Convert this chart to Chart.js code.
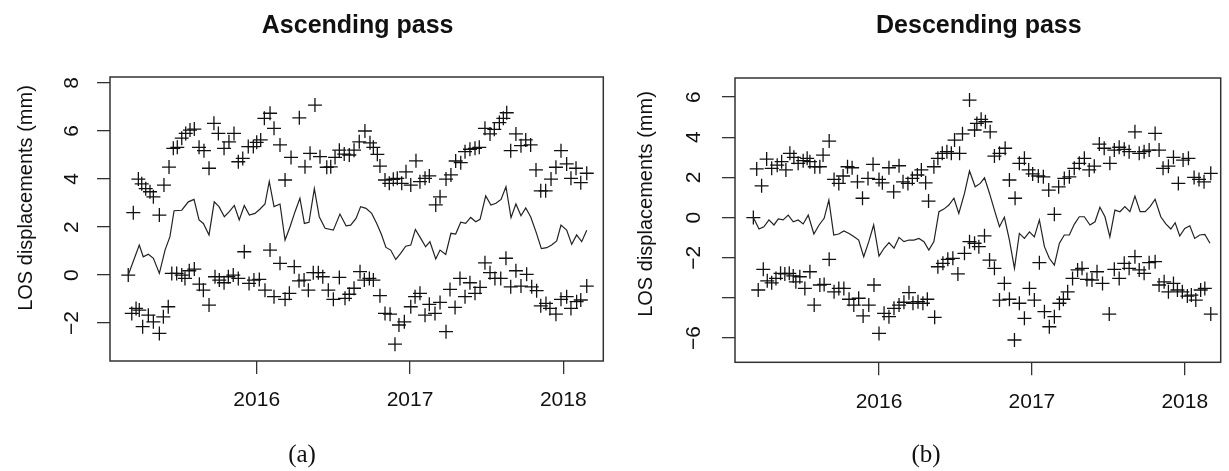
<!DOCTYPE html>
<html>
<head>
<meta charset="utf-8">
<title>LOS displacements</title>
<script src="https://cdn.jsdelivr.net/npm/chart.js@4.4.1/dist/chart.umd.min.js"></script>
<style>
  html, body { margin: 0; padding: 0; background: #fff; }
  #wrap { position: relative; width: 1229px; height: 471px; overflow: hidden; }
  canvas { position: absolute; top: 0; }
  #chartA { left: 0; }
  #chartB { left: 615px; }
</style>
</head>
<body>
<div id="wrap">
  <canvas id="chartA" width="615" height="471"></canvas>
  <canvas id="chartB" width="614" height="471"></canvas>
</div>
<script>
// ---- Ascending pass ----
const ascUpperX = [
  2015.162, 2015.195, 2015.228, 2015.250, 2015.276, 2015.304, 2015.326, 2015.365, 2015.395, 2015.428,
  2015.456, 2015.482, 2015.511, 2015.537, 2015.565, 2015.593, 2015.624, 2015.656, 2015.689, 2015.721,
  2015.750, 2015.787, 2015.819, 2015.852, 2015.880, 2015.909, 2015.945, 2015.978, 2016.000, 2016.026,
  2016.050, 2016.087, 2016.113, 2016.152, 2016.185, 2016.224, 2016.278, 2016.315, 2016.348, 2016.380,
  2016.413, 2016.457, 2016.483, 2016.511, 2016.539, 2016.571, 2016.604, 2016.635, 2016.669, 2016.706,
  2016.739, 2016.761, 2016.787, 2016.804, 2016.837, 2016.865, 2016.891, 2016.917, 2016.946, 2016.974,
  2017.005, 2017.039, 2017.065, 2017.098, 2017.126, 2017.168, 2017.196, 2017.235, 2017.267, 2017.298,
  2017.331, 2017.359, 2017.391, 2017.424, 2017.452, 2017.489, 2017.522, 2017.550, 2017.583, 2017.609,
  2017.631, 2017.657, 2017.691, 2017.724, 2017.755, 2017.787, 2017.822, 2017.853, 2017.885, 2017.920,
  2017.952, 2017.985, 2018.022, 2018.050, 2018.083, 2018.114, 2018.153
];
const ascUpperLos = [
  0, 2.6, 4.0, 3.8, 3.6, 3.47, 3.26, 2.5, 3.75, 4.5,
  5.28, 5.32, 5.7, 5.9, 6.04, 6.08, 5.32, 5.18, 4.45, 6.32,
  5.9, 5.28, 5.55, 5.9, 4.72, 4.86, 5.35, 5.35, 5.53, 5.63,
  6.53, 6.74, 6.11, 5.42, 3.96, 4.9, 6.55, 4.51, 5.07, 7.08,
  4.93, 4.49, 4.51, 4.9, 5.2, 5.04, 5.0, 5.2, 5.55, 6.0,
  5.51, 5.32, 5.03, 4.54, 3.96, 3.82, 3.99, 4.03, 3.82, 4.3,
  3.75, 4.76, 3.89, 4.03, 4.13, 2.92, 3.26, 4.0, 4.17, 4.75,
  4.68, 5.14, 5.24, 5.28, 5.32, 6.11, 5.88, 6.07, 6.35, 6.53,
  6.76, 5.18, 5.88, 5.39, 5.63, 5.42, 4.38, 3.51, 3.51, 4.0,
  4.49, 5.18, 4.63, 4.03, 4.45, 3.85, 4.24
];
const ascLowerX = [
  2015.185, 2015.213, 2015.234, 2015.256, 2015.293, 2015.326, 2015.365, 2015.391, 2015.423, 2015.446,
  2015.478, 2015.511, 2015.532, 2015.560, 2015.593, 2015.626, 2015.652, 2015.689, 2015.728, 2015.756,
  2015.787, 2015.815, 2015.847, 2015.880, 2015.919, 2015.950, 2015.982, 2016.017, 2016.054, 2016.087,
  2016.113, 2016.152, 2016.185, 2016.213, 2016.245, 2016.276, 2016.309, 2016.337, 2016.369, 2016.402,
  2016.431, 2016.467, 2016.500, 2016.539, 2016.576, 2016.604, 2016.635, 2016.674, 2016.702, 2016.735,
  2016.761, 2016.804, 2016.837, 2016.870, 2016.902, 2016.928, 2016.963, 2017.005, 2017.033, 2017.065,
  2017.098, 2017.126, 2017.163, 2017.196, 2017.235, 2017.261, 2017.294, 2017.326, 2017.359, 2017.391,
  2017.424, 2017.457, 2017.489, 2017.522, 2017.554, 2017.592, 2017.626, 2017.657, 2017.691, 2017.724,
  2017.761, 2017.794, 2017.826, 2017.853, 2017.887, 2017.913, 2017.952, 2017.985, 2018.022, 2018.050,
  2018.087, 2018.114, 2018.153
];
const ascLowerLos = [
  -1.6, -1.39, -1.46, -2.15, -1.67, -1.95, -2.43, -1.74, -1.32, 0.07,
  0.07, 0, -0.14, 0.18, 0.25, -0.38, -0.63, -1.25, -0.07, -0.21,
  -0.32, -0.07, 0, -0.14, 0.97, -0.35, -0.21, -0.18, -0.63, 1.04,
  -0.9, 0.49, -1.01, -0.76, 0.35, -0.24, -0.21, -0.63, 0.1, 0.1,
  -0.07, -0.63, -1.01, -0.1, -0.97, -0.8, -0.55, 0.14, -0.21, -0.14,
  -0.21, -0.86, -1.6, -1.63, -2.88, -2.08, -1.95, -1.32, -0.9, -0.76,
  -1.67, -1.22, -1.6, -1.14, -2.36, -0.6, -1.35, -0.14, -0.9, -0.32,
  -0.76, -0.51, 0.51, 0.1, -0.14, -0.14, 0.7, -0.49, 0.18, -0.46,
  0.03, -0.49, -0.65, -1.28, -1.18, -1.39, -1.63, -1.01, -0.9, -1.39,
  -1.11, -1.04, -0.46
];
const ascMeanX = [
  2015.162, 2015.234, 2015.260, 2015.293, 2015.326, 2015.365, 2015.402, 2015.434, 2015.461, 2015.511,
  2015.554, 2015.591, 2015.624, 2015.652, 2015.689, 2015.723, 2015.754, 2015.789, 2015.821, 2015.854,
  2015.886, 2015.919, 2015.952, 2015.989, 2016.022, 2016.054, 2016.082, 2016.113, 2016.152, 2016.185,
  2016.217, 2016.250, 2016.282, 2016.311, 2016.341, 2016.376, 2016.408, 2016.446, 2016.500, 2016.543,
  2016.583, 2016.613, 2016.648, 2016.678, 2016.713, 2016.750, 2016.783, 2016.815, 2016.843, 2016.874,
  2016.907, 2016.939, 2016.972, 2017.005, 2017.035, 2017.070, 2017.102, 2017.130, 2017.168, 2017.196,
  2017.233, 2017.267, 2017.298, 2017.331, 2017.363, 2017.396, 2017.429, 2017.457, 2017.494, 2017.528,
  2017.561, 2017.594, 2017.626, 2017.659, 2017.691, 2017.724, 2017.755, 2017.787, 2017.822, 2017.857,
  2017.892, 2017.924, 2017.957, 2017.985, 2018.022, 2018.055, 2018.087, 2018.120, 2018.153
];
const ascMeanLos = [
  0, 1.25, 0.76, 0.87, 0.7, 0.07, 1.04, 1.6, 2.68, 2.7,
  3.05, 3.15, 2.3, 2.15, 1.67, 3.05, 2.85, 2.43, 2.64, 2.9,
  2.3, 2.9, 2.5, 2.57, 2.75, 2.96, 3.9, 2.85, 2.96, 1.46,
  2.0, 2.64, 3.2, 2.15, 2.2, 3.6, 2.43, 1.95, 1.87, 2.54,
  2.05, 2.08, 2.36, 2.85, 2.78, 2.57, 2.15, 1.67, 1.15, 1.04,
  0.65, 0.9, 1.2, 1.25, 1.9, 1.53, 1.18, 1.39, 0.67, 1.04,
  0.86, 1.74, 1.71, 2.2, 2.15, 2.4, 2.22, 2.32, 3.3, 2.92,
  2.99, 3.15, 3.68, 2.39, 2.96, 2.47, 2.8, 2.43, 1.8, 1.1,
  1.14, 1.25, 1.42, 2.08, 1.87, 1.28, 1.67, 1.39, 1.87
];

// ---- Descending pass ----
const descUpperX = [
  2015.178, 2015.200, 2015.232, 2015.265, 2015.298, 2015.334, 2015.363, 2015.391, 2015.417, 2015.443,
  2015.471, 2015.504, 2015.530, 2015.548, 2015.580, 2015.613, 2015.634, 2015.674, 2015.706, 2015.737,
  2015.765, 2015.794, 2015.824, 2015.859, 2015.892, 2015.928, 2015.961, 2016.000, 2016.022, 2016.065,
  2016.096, 2016.131, 2016.157, 2016.189, 2016.218, 2016.251, 2016.277, 2016.305, 2016.324, 2016.359,
  2016.385, 2016.414, 2016.444, 2016.473, 2016.494, 2016.527, 2016.546, 2016.592, 2016.625, 2016.640,
  2016.668, 2016.696, 2016.727, 2016.755, 2016.788, 2016.825, 2016.853, 2016.890, 2016.918, 2016.951,
  2016.979, 2017.005, 2017.042, 2017.075, 2017.110, 2017.147, 2017.175, 2017.212, 2017.245, 2017.277,
  2017.310, 2017.343, 2017.375, 2017.408, 2017.441, 2017.473, 2017.510, 2017.539, 2017.571, 2017.604,
  2017.636, 2017.674, 2017.702, 2017.734, 2017.767, 2017.806, 2017.832, 2017.858, 2017.893, 2017.926,
  2017.958, 2017.989, 2018.024, 2018.061, 2018.093, 2018.126, 2018.170
];
const descUpperLos = [
  0, 2.42, 1.58, 2.91, 2.45, 2.61, 2.78, 2.37, 3.2, 3.0,
  2.7, 2.83, 2.95, 2.78, 2.53, 2.53, 3.11, 3.81, 1.9, 1.7,
  2.07, 2.53, 2.48, 1.78, 0.96, 1.95, 2.65, 1.9, 1.73, 2.48,
  1.28, 2.58, 1.78, 1.7, 1.95, 2.12, 2.37, 1.73, 0.82, 2.53,
  2.95, 3.2, 3.28, 3.2, 3.86, 3.2, 4.17, 5.85, 4.36, 4.69,
  4.89, 4.77, 4.27, 3.06, 3.2, 3.45, 1.87, 0.96, 2.7, 2.95,
  2.37, 2.17, 2.07, 2.03, 1.37, 0.16, 1.53, 1.95, 2.03, 2.45,
  2.7, 2.95, 2.37, 2.56, 3.66, 3.45, 2.7, 3.36, 3.5, 3.4,
  3.28, 4.27, 3.2, 3.28, 3.36, 4.19, 3.36, 2.45, 2.56, 3.0,
  1.7, 2.86, 2.95, 2.0, 1.9, 1.78, 2.2
];
const descLowerX = [
  2015.210, 2015.243, 2015.269, 2015.298, 2015.326, 2015.356, 2015.384, 2015.413, 2015.439, 2015.456,
  2015.482, 2015.515, 2015.548, 2015.576, 2015.613, 2015.641, 2015.674, 2015.706, 2015.737, 2015.770,
  2015.804, 2015.835, 2015.867, 2015.896, 2015.933, 2015.967, 2016.000, 2016.033, 2016.065, 2016.098,
  2016.131, 2016.163, 2016.196, 2016.222, 2016.255, 2016.287, 2016.316, 2016.364, 2016.385, 2016.418,
  2016.450, 2016.483, 2016.516, 2016.559, 2016.592, 2016.625, 2016.653, 2016.690, 2016.723, 2016.755,
  2016.788, 2016.820, 2016.853, 2016.886, 2016.918, 2016.951, 2016.984, 2017.016, 2017.049, 2017.082,
  2017.114, 2017.147, 2017.180, 2017.206, 2017.234, 2017.266, 2017.299, 2017.328, 2017.360, 2017.393,
  2017.426, 2017.462, 2017.506, 2017.539, 2017.571, 2017.604, 2017.636, 2017.674, 2017.702, 2017.734,
  2017.767, 2017.806, 2017.832, 2017.865, 2017.893, 2017.926, 2017.952, 2017.984, 2018.017, 2018.043,
  2018.072, 2018.104, 2018.131, 2018.170
];
const descLowerLos = [
  -3.61, -2.58, -3.15, -3.25, -3.03, -2.78, -2.81, -2.78, -2.91, -3.2,
  -2.95, -3.53, -2.7, -4.36, -3.36, -3.33, -2.08, -3.7, -3.53, -3.53,
  -4.07, -4.36, -4.02, -4.9, -4.36, -3.36, -5.77, -4.77, -4.94, -4.52,
  -4.36, -4.22, -3.74, -4.27, -4.19, -4.27, -4.07, -4.97, -2.45, -2.28,
  -2.08, -2.03, -2.81, -1.78, -1.2, -1.28, -1.45, -0.91, -2.12, -2.53,
  -4.11, -3.28, -4.07, -6.1, -4.27, -5.02, -3.53, -4.11, -2.25, -4.69,
  -5.44, -4.94, -4.27, -4.07, -3.7, -3.03, -2.61, -2.53, -3.08, -3.11,
  -2.7, -3.28, -4.81, -2.58, -3.03, -2.28, -2.53, -1.95, -2.61, -2.78,
  -2.25, -2.2, -3.36, -3.2, -3.7, -3.28, -3.61, -3.7, -3.91, -3.86,
  -4.11, -3.61, -3.53, -4.81
];
const descMeanX = [
  2015.178, 2015.215, 2015.247, 2015.280, 2015.313, 2015.341, 2015.373, 2015.406, 2015.439, 2015.471,
  2015.504, 2015.537, 2015.574, 2015.608, 2015.641, 2015.672, 2015.704, 2015.737, 2015.770, 2015.804,
  2015.837, 2015.867, 2015.900, 2015.933, 2015.965, 2016.000, 2016.033, 2016.065, 2016.098, 2016.131,
  2016.163, 2016.196, 2016.228, 2016.261, 2016.294, 2016.326, 2016.359, 2016.392, 2016.424, 2016.457,
  2016.490, 2016.522, 2016.559, 2016.592, 2016.629, 2016.662, 2016.690, 2016.723, 2016.755, 2016.788,
  2016.820, 2016.853, 2016.886, 2016.918, 2016.951, 2016.984, 2017.016, 2017.049, 2017.082, 2017.114,
  2017.147, 2017.180, 2017.212, 2017.245, 2017.277, 2017.310, 2017.343, 2017.380, 2017.413, 2017.445,
  2017.478, 2017.510, 2017.543, 2017.576, 2017.608, 2017.641, 2017.674, 2017.708, 2017.741, 2017.773,
  2017.806, 2017.843, 2017.876, 2017.909, 2017.937, 2017.967, 2018.000, 2018.033, 2018.065, 2018.098,
  2018.131, 2018.165
];
const descMeanLos = [
  0, -0.57, -0.46, -0.12, -0.37, -0.07, -0.12, 0.12, -0.21, -0.12,
  -0.32, 0.12, -0.82, -0.37, -0.04, 0.87, -0.87, -0.82, -0.67, -0.79,
  -0.96, -1.12, -1.95, -1.2, -0.37, -1.92, -1.53, -1.25, -1.53, -0.99,
  -1.2, -1.12, -1.12, -1.04, -1.2, -1.62, -1.2, 0.29, 0.42, 0.62,
  0.96, 0.21, 1.2, 2.32, 1.53, 1.7, 1.98, 1.2, 0.37, -0.46,
  0.01, -1.12, -2.53, -0.79, -1.04, -0.71, -0.96, -0.12, -1.45, -2.03,
  -2.37, -1.28, -0.87, -0.87, -0.34, 0.04, 0.04, -0.37, -0.21, 0.51,
  0.04, -0.96, 0.37, 0.29, 0.54, 0.29, 1.07, 0.29, 0.29, 0.54,
  0.91, 0.04, -0.32, -0.57, -0.26, -0.92, -0.54, -0.41, -1.04, -0.87,
  -0.84, -1.28
];

// ---- axes ----
const yearTicks = [2016, 2017, 2018];
const ascYTicks = [-2, 0, 2, 4, 6, 8];
const ascYLabels = ['\u22122', '0', '2', '4', '6', '8'];
const descYTicks = [-6, -4, -2, 0, 2, 4, 6];
const descYLabels = ['\u22126', '', '\u22122', '0', '2', '4', '6']; // R drops the -4 label

const INK = '#111';
const SANS = '"Liberation Sans", Arial, sans-serif';

function pairs(xs, ys) {
  return xs.map((x, i) => ({ x: x, y: ys[i] }));
}

// box, titles, rotated y labels (R style) and (a)/(b) captions
const panelDeco = {
  id: 'panelDeco',
  afterDraw(chart, args, o) {
    const ctx = chart.ctx;
    const a = chart.chartArea;
    const ys = chart.scales.y;
    ctx.save();
    ctx.strokeStyle = '#333';
    ctx.lineWidth = 1.5;
    ctx.strokeRect(a.left, a.top, a.right - a.left, a.bottom - a.top);

    ctx.fillStyle = INK;
    ctx.textAlign = 'center';
    ctx.textBaseline = 'alphabetic';
    ctx.font = 'bold 25px ' + SANS;
    // title sits centred over the plot box
    ctx.fillText(o.title, (a.left + a.right) / 2 + o.titleShift, 33);

    ctx.font = '25px "Liberation Serif", "Times New Roman", serif';
    ctx.fillText(o.caption, o.captionX, 462);

    ctx.font = '21px ' + SANS;
    ctx.textBaseline = 'middle';
    o.ticks.forEach((v, i) => {
      if (!o.labels[i]) return;
      ctx.save();
      ctx.translate(o.tickX, ys.getPixelForValue(v));
      ctx.rotate(-Math.PI / 2);
      ctx.fillText(o.labels[i], 0, 0);
      ctx.restore();
    });

    ctx.font = '20px ' + SANS;
    ctx.translate(o.yTitleX, o.yTitleY);
    ctx.rotate(-Math.PI / 2);
    ctx.fillText('LOS displacements (mm)', 0, 0);
    ctx.restore();
  }
};

function makePanel(id, p) {
  const pointSet = (xs, ys) => ({
    data: pairs(xs, ys),
    pointStyle: 'cross',
    pointRadius: 7,
    borderColor: INK,
    backgroundColor: INK,
    borderWidth: 1.3
  });
  return new Chart(document.getElementById(id), {
    type: 'scatter',
    data: {
      datasets: [
        {
          data: pairs(p.meanX, p.meanY),
          showLine: true,
          borderColor: '#222',
          borderWidth: 1.2,
          pointRadius: 0,
          tension: 0
        },
        pointSet(p.upX, p.upY),
        pointSet(p.lowX, p.lowY)
      ]
    },
    options: {
      responsive: false,
      animation: false,
      events: [],
      layout: { padding: p.pad },
      plugins: {
        legend: { display: false },
        tooltip: { enabled: false },
        panelDeco: p.deco
      },
      scales: {
        x: {
          type: 'linear',
          min: p.xMin,
          max: p.xMax,
          afterBuildTicks: s => { s.ticks = yearTicks.map(v => ({ value: v })); },
          afterFit: s => { s.height = p.xHeight; },
          ticks: {
            callback: v => String(v),
            font: { family: SANS, size: 21 },
            color: INK,
            padding: 14,
            maxRotation: 0
          },
          grid: { drawOnChartArea: false, drawTicks: true, tickLength: 13, color: '#333', lineWidth: 1.3 },
          border: { display: false }
        },
        y: {
          min: p.yMin,
          max: p.yMax,
          afterBuildTicks: s => { s.ticks = p.deco.ticks.map(v => ({ value: v })); },
          afterFit: s => { s.width = p.yWidth; },
          ticks: { display: false },
          grid: { drawOnChartArea: false, drawTicks: true, tickLength: 13, color: '#333', lineWidth: 1.3 },
          border: { display: false }
        }
      }
    },
    plugins: [panelDeco]
  });
}

makePanel('chartA', {
  upX: ascUpperX, upY: ascUpperLos,
  lowX: ascLowerX, lowY: ascLowerLos,
  meanX: ascMeanX, meanY: ascMeanLos,
  xMin: 2015.043, xMax: 2018.261,
  yMin: -3.58, yMax: 8.25,
  pad: { left: 0, right: 11.7, top: 77, bottom: 0 },
  yWidth: 110, xHeight: 110,
  deco: {
    title: 'Ascending pass', titleShift: 1,
    caption: '(a)', captionX: 302,
    ticks: ascYTicks, labels: ascYLabels, tickX: 72.5,
    yTitleX: 26.5, yTitleY: 198
  }
});

makePanel('chartB', {
  upX: descUpperX, upY: descUpperLos,
  lowX: descLowerX, lowY: descLowerLos,
  meanX: descMeanX, meanY: descMeanLos,
  xMin: 2015.058, xMax: 2018.235,
  yMin: -7.21, yMax: 6.95,
  pad: { left: 0, right: 7.3, top: 78, bottom: 0 },
  yWidth: 120, xHeight: 108.7,
  deco: {
    title: 'Descending pass', titleShift: 1,
    caption: '(b)', captionX: 311,
    ticks: descYTicks, labels: descYLabels, tickX: 79.5,
    yTitleX: 31, yTitleY: 204
  }
});
</script>
</body>
</html>
